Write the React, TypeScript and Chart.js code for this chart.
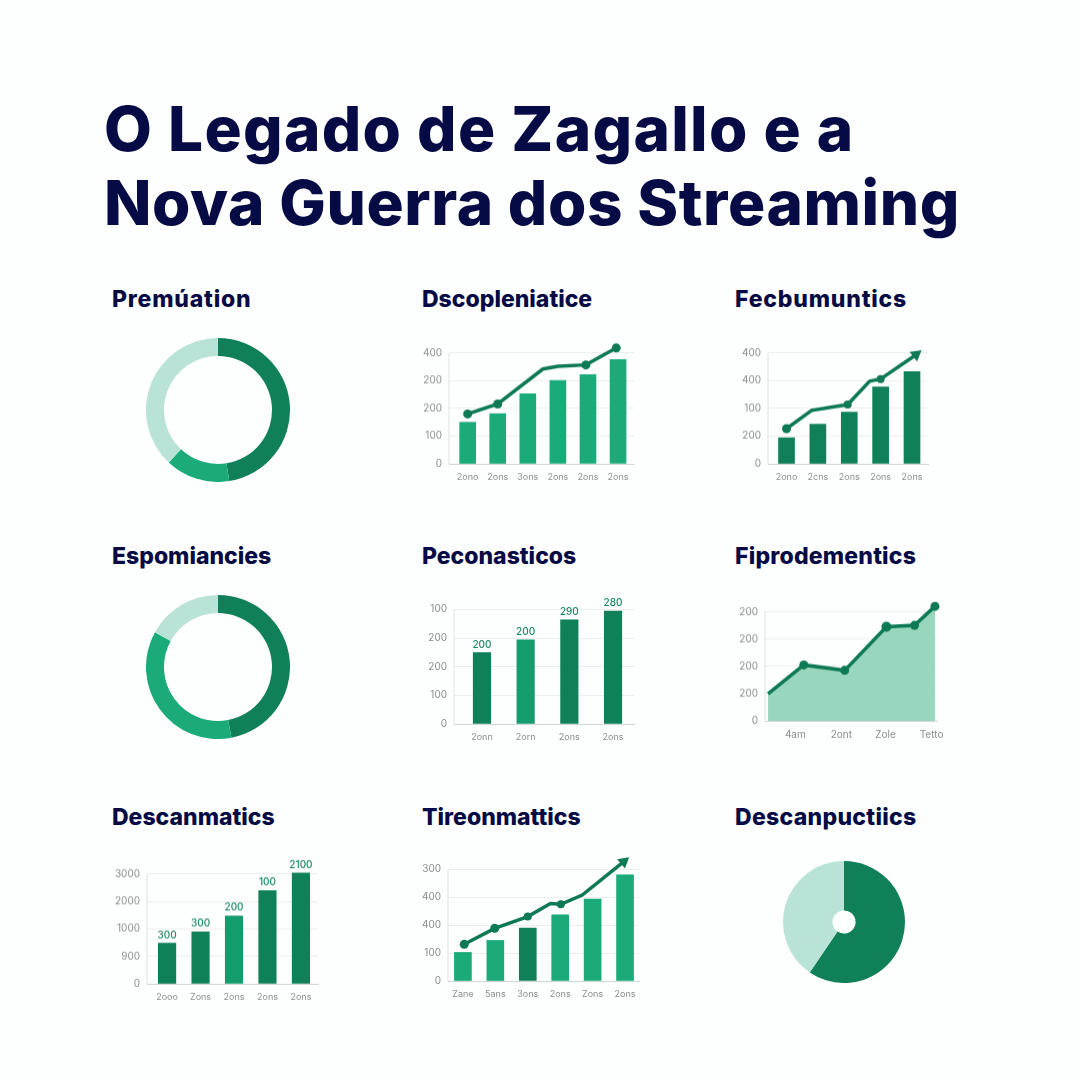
import React, { useEffect, useRef } from "react";
import { Chart, registerables } from "chart.js";

Chart.register(...registerables);

const DARK = "#0f8058";
const MID = "#1bab78";
const LIGHT = "#b9e3d6";
const LINE = "#0e7a55";
const NAVY = "#060a45";
const FONT = "Inter, 'Open Sans', sans-serif";

const titleLines = ["O Legado de Zagallo e a", "Nova Guerra dos Streaming"];
const titleSpacing = [1.3, 0.6];

// Donut 1
const d1Values = [47.5, 14.5, 38];
// Donut 2
const d2Values = [47, 36, 17];
// Pie
const d3Values = [59.5, 40.5];

// Chart: Dscopleniatice
const c1Y = ["0", "100", "200", "200", "400"];
const c1X = ["2ono", "2ons", "3ons", "2ons", "2ons", "2ons"];
const c1Bars = [150, 181, 253, 301, 322, 376];
const c1LineX = [0, 1, 2.5, 3, 3.93, 4.94];
const c1LineY = [180, 216, 342, 352, 357, 418];

// Chart: Fecbumuntics
const c2Y = ["0", "200", "100", "400", "400"];
const c2X = ["2ono", "2cns", "2ons", "2ons", "2ons"];
const c2Bars = [94, 143, 187, 277, 333];
const c2LineX = [0, 0.8, 1.95, 2.65, 3, 4.13];
const c2LineY = [127, 193, 214, 298, 306, 394];

// Chart: Peconasticos
const c3Y = ["0", "100", "200", "200", "100"];
const c3X = ["2onn", "2orn", "2ons", "2ons"];
const c3Bars = [249, 294, 363, 394];
const c3Labels = ["200", "200", "290", "280"];

// Chart: Fiprodementics
const c4Y = ["0", "200", "200", "200", "200"];
const c4X = ["4am", "2ont", "Zole", "Tetto"];
const c4TickX = [16, 43, 69, 96];
const c4LineX = [0, 21, 45, 69.5, 86, 98];
const c4LineY = [99, 205, 185, 345, 350, 420];

// Chart: Descanmatics
const c5Y = ["0", "900", "1000", "2000", "3000"];
const c5X = ["2ooo", "Zons", "2ons", "2ons", "2ons"];
const c5Bars = [148, 189, 247, 339, 403];
const c5Labels = ["300", "300", "200", "100", "2100"];

// Chart: Tireonmattics
const c6Y = ["0", "100", "400", "400", "300"];
const c6X = ["Zane", "5ans", "3ons", "2ons", "Zons", "2ons"];
const c6Bars = [102, 145, 189, 236, 293, 379];
const c6LineX = [0.04, 0.98, 2, 2.7, 3.02, 3.68, 4.96];
const c6LineY = [131, 188, 230, 277, 274, 307, 426];

const Y_TOP = 400;
const Y_ROOM = 450;

const labelPlugin = {
  id: "barLabels",
  beforeDatasetsDraw(chart: any) {
    const y = chart.scales.y;
    const ctx = chart.ctx;
    ctx.save();
    ctx.strokeStyle = "#dfe3e1";
    ctx.lineWidth = 1;
    ctx.beginPath();
    ctx.moveTo(y.right, y.getPixelForValue(Y_TOP));
    ctx.lineTo(y.right, y.getPixelForValue(0));
    ctx.stroke();
    ctx.restore();
  },
  afterDatasetsDraw(chart: any) {
    chart.data.datasets.forEach((ds: any, i: number) => {
      if (!ds.barLabels) return;
      const meta = chart.getDatasetMeta(i);
      const ctx = chart.ctx;
      ctx.save();
      ctx.font = `500 10px ${FONT}`;
      ctx.fillStyle = "#1a8a62";
      ctx.textAlign = "center";
      ctx.textBaseline = "bottom";
      meta.data.forEach((el: any, j: number) => {
        ctx.fillText(ds.barLabels[j], el.x, el.y - 3);
      });
      ctx.restore();
    });
  },
};

type Plot = { l: number; r: number; t: number; b: number };
const PAD = { left: 45, right: 15, top: 15, bottom: 30 };

function axes(yLabels: string[], xLabels: string[], xTicks: number[], xMin: number, xMax: number, xSize = 9) {
  return {
    x: {
      type: "linear",
      offset: false,
      min: xMin,
      max: xMax,
      afterBuildTicks: (s: any) => {
        s.ticks = xTicks.map((value) => ({ value }));
      },
      afterFit: (s: any) => {
        s.height = PAD.bottom;
      },
      grid: { display: false },
      border: { color: "#cfd5d2", width: 1 },
      ticks: {
        autoSkip: false,
        maxRotation: 0,
        padding: 0,
        color: "#8a8e8c",
        font: { family: FONT, size: xSize },
        callback: (_: any, i: number) => xLabels[i],
      },
    },
    y: {
      min: 0,
      max: Y_ROOM,
      afterBuildTicks: (s: any) => {
        s.ticks = [0, 100, 200, 300, Y_TOP].map((value) => ({ value }));
      },
      afterFit: (s: any) => {
        s.width = PAD.left;
      },
      grid: { color: "#eceeed", lineWidth: 1, tickLength: 0 },
      border: { display: false },
      ticks: {
        padding: 7,
        color: "#8a8e8c",
        font: { family: FONT, size: 10 },
        callback: (_: any, i: number) => yLabels[i],
      },
    },
  };
}

function pts(xs: number[], ys: number[]) {
  return xs.map((x, i) => ({ x, y: ys[i] }));
}

function barDataset(values: number[], colors: string | string[], thickness: number, labels?: string[]) {
  return {
    type: "bar",
    order: 2,
    data: values.map((y, x) => ({ x, y })),
    backgroundColor: colors,
    barThickness: thickness,
    barLabels: labels,
  };
}

function lineDataset(xs: number[], ys: number[], radii: number[], arrowAngle?: number) {
  const last = xs.length - 1;
  return {
    type: "line",
    order: 1,
    data: pts(xs, ys),
    borderColor: LINE,
    backgroundColor: LINE,
    borderWidth: 3.5,
    tension: 0,
    clip: false,
    pointRadius: radii,
    pointHoverRadius: radii,
    pointBackgroundColor: LINE,
    pointBorderWidth: 0,
    pointStyle: xs.map((_, i) => (i === last && arrowAngle !== undefined ? "triangle" : "circle")),
    pointRotation: xs.map((_, i) => (i === last && arrowAngle !== undefined ? arrowAngle : 0)),
  };
}

function cartesian(datasets: any[], scales: any) {
  return {
    type: "bar",
    data: { datasets },
    options: {
      responsive: false,
      animation: false,
      layout: { padding: { top: PAD.top, right: PAD.right, left: 0, bottom: 0 } },
      plugins: { legend: { display: false }, tooltip: { enabled: false } },
      scales,
    },
    plugins: [labelPlugin],
  };
}

function round(values: number[], colors: string[], cutout: string) {
  return {
    type: "doughnut",
    data: {
      datasets: [{ data: values, backgroundColor: colors, borderWidth: 0 }],
    },
    options: {
      responsive: false,
      animation: false,
      cutout,
      layout: { padding: 0 },
      plugins: { legend: { display: false }, tooltip: { enabled: false } },
    },
  };
}

function PlotChart({ plot, config }: { plot: Plot; config: any }) {
  const ref = useRef<HTMLCanvasElement>(null);
  useEffect(() => {
    const chart = new Chart(ref.current as any, config);
    return () => chart.destroy();
  }, []);
  const extra = ((plot.b - plot.t) * (Y_ROOM - Y_TOP)) / Y_TOP;
  const w = plot.r - plot.l + PAD.left + PAD.right;
  const h = plot.b - plot.t + extra + PAD.top + PAD.bottom;
  return (
    <canvas
      ref={ref}
      width={w}
      height={h}
      style={{ position: "absolute", left: plot.l - PAD.left, top: plot.t - extra - PAD.top, width: w, height: h }}
    />
  );
}

function RoundChart({ cx, cy, r, config }: { cx: number; cy: number; r: number; config: any }) {
  const ref = useRef<HTMLCanvasElement>(null);
  useEffect(() => {
    const chart = new Chart(ref.current as any, config);
    return () => chart.destroy();
  }, []);
  const size = r * 2;
  return (
    <canvas
      ref={ref}
      width={size}
      height={size}
      style={{ position: "absolute", left: cx - r, top: cy - r, width: size, height: size }}
    />
  );
}

function Heading({ text, x, cy, spacing = 0 }: { text: string; x: number; cy: number; spacing?: number }) {
  return (
    <div
      style={{
        position: "absolute",
        left: x,
        top: cy - 15,
        height: 30,
        lineHeight: "30px",
        fontFamily: FONT,
        fontWeight: 800,
        fontSize: 23,
        letterSpacing: spacing,
        color: NAVY,
        whiteSpace: "nowrap",
      }}
    >
      {text}
    </div>
  );
}

export default function App() {
  return (
    <div style={{ position: "absolute", left: 0, top: 0, width: 1080, height: 1080, background: "#fdfefe", overflow: "hidden" }}>
      {titleLines.map((t, i) => (
        <div
          key={t}
          style={{
            position: "absolute",
            left: 104,
            top: 98 + i * 74,
            lineHeight: "62px",
            fontFamily: FONT,
            fontWeight: 800,
            fontSize: 62,
            letterSpacing: titleSpacing[i],
            color: NAVY,
            whiteSpace: "nowrap",
          }}
        >
          {t}
        </div>
      ))}

      <Heading text="Premúation" x={112} cy={299} spacing={0.8} />
      <Heading text="Dscopleniatice" x={422} cy={299} />
      <Heading text="Fecbumuntics" x={735} cy={299} spacing={0.8} />
      <Heading text="Espomiancies" x={112} cy={556} />
      <Heading text="Peconasticos" x={422} cy={556} />
      <Heading text="Fiprodementics" x={735} cy={556} spacing={0.2} />
      <Heading text="Descanmatics" x={112} cy={817} />
      <Heading text="Tireonmattics" x={422} cy={817} />
      <Heading text="Descanpuctiics" x={735} cy={817} spacing={0.3} />

      <RoundChart cx={218} cy={410} r={72} config={round(d1Values, [DARK, MID, LIGHT], "75%")} />
      <RoundChart cx={218} cy={667} r={72} config={round(d2Values, [DARK, MID, LIGHT], "75%")} />
      <RoundChart cx={844} cy={922} r={61} config={round(d3Values, [DARK, LIGHT], "19%")} />

      <PlotChart
        plot={{ l: 449, r: 634, t: 353, b: 464 }}
        config={cartesian(
          [lineDataset(c1LineX, c1LineY, [4.5, 4.5, 0, 0, 4.5, 4.5]), barDataset(c1Bars, MID, 16)],
          axes(c1Y, c1X, c1X.map((_, i) => i), -0.62, 5.53)
        )}
      />
      <PlotChart
        plot={{ l: 768, r: 928, t: 353, b: 464 }}
        config={cartesian(
          [lineDataset(c2LineX, c2LineY, [4.5, 0, 4, 0, 4, 7], 52), barDataset(c2Bars, DARK, 16)],
          axes(c2Y, c2X, c2X.map((_, i) => i), -0.59, 4.51)
        )}
      />
      <PlotChart
        plot={{ l: 454, r: 634, t: 609, b: 724 }}
        config={cartesian(
          [barDataset(c3Bars, [DARK, "#159c6c", DARK, DARK], 17.5, c3Labels)],
          axes(c3Y, c3X, c3X.map((_, i) => i), -0.64, 3.48)
        )}
      />
      <PlotChart
        plot={{ l: 765, r: 937, t: 612, b: 721 }}
        config={cartesian(
          [
            {
              ...lineDataset(c4LineX, c4LineY, [0, 4.5, 4.5, 5, 4.5, 4.5]),
              fill: "origin",
              backgroundColor: "#98d6bd",
            },
          ],
          axes(c4Y, c4X, c4TickX, -1.8, 99.2, 10)
        )}
      />
      <PlotChart
        plot={{ l: 147, r: 318, t: 874, b: 984 }}
        config={cartesian(
          [barDataset(c5Bars, [DARK, DARK, "#159c6c", DARK, DARK], 17.5, c5Labels)],
          axes(c5Y, c5X, c5X.map((_, i) => i), -0.6, 4.51)
        )}
      />
      <PlotChart
        plot={{ l: 448, r: 639, t: 869, b: 981 }}
        config={cartesian(
          [
            lineDataset(c6LineX, c6LineY, [4.5, 4.5, 4, 0, 4, 0, 7], 50),
            barDataset(c6Bars, [MID, MID, DARK, MID, MID, MID], 17),
          ],
          axes(c6Y, c6X, c6X.map((_, i) => i), -0.46, 5.43)
        )}
      />
    </div>
  );
}
